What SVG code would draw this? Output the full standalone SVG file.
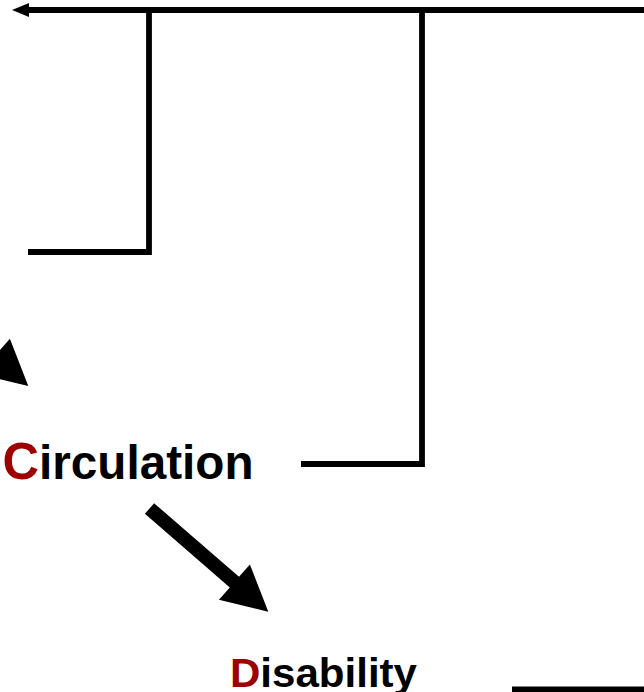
<svg xmlns="http://www.w3.org/2000/svg" width="644" height="692" viewBox="0 0 644 692">
  <style>
    .ln { fill: none; stroke: #000; stroke-width: 5.8; stroke-linejoin: miter; stroke-linecap: butt; }
    .lbl { font-family: "Liberation Sans", Arial, sans-serif; font-weight: bold; fill: #000; }
    .init { fill: #9E0000; }
  </style>
  <rect width="644" height="692" fill="#fff"/>
  <g id="connectors">
    <line class="ln" x1="27" y1="10" x2="644" y2="10"/>
    <polygon points="12,10 29,3 29,17" fill="#000"/>
    <polyline class="ln" points="28,252 149,252 149,10"/>
    <polyline class="ln" points="301,464 422,464 422,10"/>
    <line class="ln" x1="512" y1="689.5" x2="644" y2="689.5"/>
    <polygon points="144.9,513.8 229.8,587.4 218.9,599.8 268.3,611.7 249.9,564.4 239,576.8 154.1,503.2" fill="#000"/>
    <polygon transform="translate(-240,-225.7)" points="144.9,513.8 229.8,587.4 218.9,599.8 268.3,611.7 249.9,564.4 239,576.8 154.1,503.2" fill="#000"/>
  </g>
  <g id="node-circulation">
    <text class="lbl" x="2.5" y="479" font-size="48" textLength="251" lengthAdjust="spacingAndGlyphs"><tspan class="init" font-size="51">C</tspan>irculation</text>
  </g>
  <g id="node-disability">
    <text class="lbl" x="230" y="687" font-size="41" textLength="187" lengthAdjust="spacingAndGlyphs"><tspan class="init">D</tspan>isability</text>
  </g>
</svg>
